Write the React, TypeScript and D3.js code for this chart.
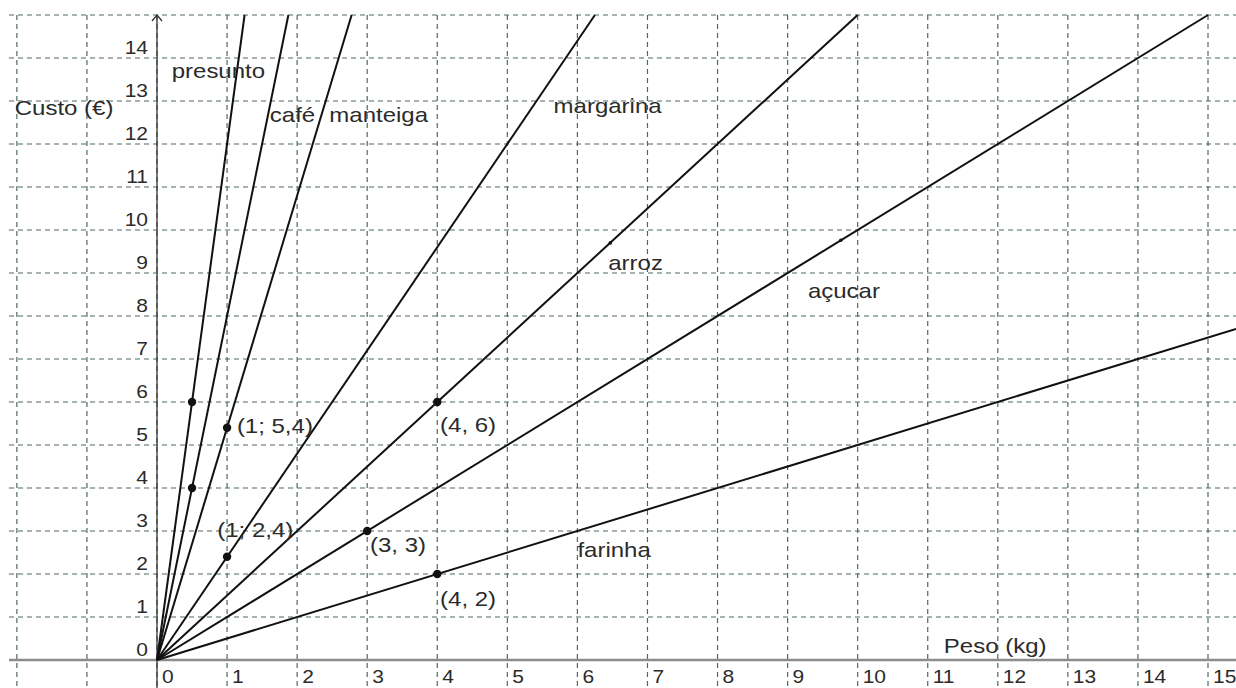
import { useEffect, useRef } from 'react';
import * as d3 from 'd3';

// ── Data ──

const PRODUCTS = ['presunto', 'café', 'manteiga', 'margarina', 'arroz', 'açucar', 'farinha'];
const PRICE_PER_KG = [12, 8, 5.4, 2.4, 1.5, 1, 0.5];
const PRODUCT_LABEL_X = [0.21, 1.61, 2.46, 5.66, 6.44, 9.29, 6.0];
const PRODUCT_LABEL_Y = [13.53, 12.51, 12.51, 12.72, 9.07, 8.42, 2.4];

const POINT_X = [0.5, 0.5, 1, 1, 4, 3, 4];
const POINT_Y = [6, 4, 5.4, 2.4, 6, 3, 2];
const GUIDE_X = [6.47, 9.76];
const GUIDE_Y = [9.7, 9.76];

const COORD_LABELS = ['(1; 5,4)', '(1; 2,4)', '(4, 6)', '(3, 3)', '(4, 2)'];
const COORD_LABEL_X = [1.14, 0.86, 4.04, 3.04, 4.04];
const COORD_LABEL_Y = [5.28, 2.86, 5.3, 2.51, 1.26];

const X_TICKS = [0, 1, 2, 3, 4, 5, 6, 7, 8, 9, 10, 11, 12, 13, 14, 15];
const Y_TICKS = [0, 1, 2, 3, 4, 5, 6, 7, 8, 9, 10, 11, 12, 13, 14];
const X_GRID = [-2, -1, 0, 1, 2, 3, 4, 5, 6, 7, 8, 9, 10, 11, 12, 13, 14, 15];
const Y_GRID = [1, 2, 3, 4, 5, 6, 7, 8, 9, 10, 11, 12, 13, 14, 15];

const W = 1236;
const H = 688;
const FONT = '"Liberation Sans", Arial, sans-serif';
const GRID = '#4e6963';
const INK = '#111';
const TEXT = '#2b2b2b';
const SX = 1.2; // picture is stretched horizontally

export default function App() {
  const svgRef = useRef<SVGSVGElement>(null);

  useEffect(() => {
    const svgEl = svgRef.current;
    if (!svgEl) return;
    const svg = d3.select(svgEl);
    svg.selectAll('*').remove();

    const x = d3.scaleLinear().domain([0, 15]).range([157, 1208]);
    const y = d3.scaleLinear().domain([0, 15]).range([660, 15]);
    const xMin = x.invert(9);
    const xMax = x.invert(W);
    const yMin = y.invert(H);
    const yMax = 15;

    svg.append('rect').attr('width', W).attr('height', H).attr('fill', '#fff');

    // grid
    const grid = svg.append('g').attr('stroke', GRID).attr('stroke-width', 1.2).attr('stroke-dasharray', '5,4');
    grid
      .selectAll('.hg')
      .data(Y_GRID)
      .enter()
      .append('line')
      .attr('x1', x(xMin))
      .attr('x2', x(xMax))
      .attr('y1', (d) => y(d))
      .attr('y2', (d) => y(d));
    grid
      .selectAll('.vg')
      .data(X_GRID)
      .enter()
      .append('line')
      .attr('x1', (d) => x(d))
      .attr('x2', (d) => x(d))
      .attr('y1', y(yMax))
      .attr('y2', y(yMin));

    // axes
    svg
      .append('line')
      .attr('x1', x(xMin))
      .attr('x2', x(xMax))
      .attr('y1', y(0))
      .attr('y2', y(0))
      .attr('stroke', '#8c8c8c')
      .attr('stroke-width', 2.5);
    svg
      .append('line')
      .attr('x1', x(0))
      .attr('x2', x(0))
      .attr('y1', y(yMin))
      .attr('y2', y(yMax))
      .attr('stroke', '#333')
      .attr('stroke-width', 1.3);
    svg
      .append('path')
      .attr('d', `M${x(0) - 5},${y(yMax) + 6} L${x(0)},${y(yMax)} L${x(0) + 5},${y(yMax) + 6}`)
      .attr('fill', 'none')
      .attr('stroke', '#333')
      .attr('stroke-width', 1.3);

    const addText = (
      g: d3.Selection<SVGSVGElement, unknown, null, undefined>,
      px: number,
      py: number,
      str: string,
      size: number,
      anchor = 'start',
    ) =>
      g
        .append('text')
        .attr('transform', `translate(${px},${py}) scale(${SX},1)`)
        .attr('font-family', FONT)
        .attr('font-size', size)
        .attr('fill', TEXT)
        .attr('text-anchor', anchor)
        .text(str);

    // tick labels
    X_TICKS.forEach((t) => addText(svg, x(t) + 5, y(0) + 23, String(t), 17.5));
    Y_TICKS.forEach((t) => addText(svg, x(0) - 9, y(t) - 4, String(t), 17.5, 'end'));

    // product lines through the origin, clipped to the visible frame
    const line = d3
      .line<[number, number]>()
      .x((d) => x(d[0]))
      .y((d) => y(d[1]));
    svg
      .selectAll('.prod')
      .data(PRICE_PER_KG)
      .enter()
      .append('path')
      .attr('fill', 'none')
      .attr('stroke', INK)
      .attr('stroke-width', 2)
      .attr('d', (m) => {
        const xe = Math.min(xMax, yMax / m);
        return line([
          [0, 0],
          [xe, m * xe],
        ]);
      });

    // points
    svg
      .selectAll('.pt')
      .data(POINT_X)
      .enter()
      .append('circle')
      .attr('cx', (d) => x(d))
      .attr('cy', (_d, i) => y(POINT_Y[i]))
      .attr('r', 4.2)
      .attr('fill', INK);
    svg
      .selectAll('.gp')
      .data(GUIDE_X)
      .enter()
      .append('circle')
      .attr('cx', (d) => x(d))
      .attr('cy', (_d, i) => y(GUIDE_Y[i]))
      .attr('r', 1.8)
      .attr('fill', INK);

    // labels
    PRODUCTS.forEach((p, i) => addText(svg, x(PRODUCT_LABEL_X[i]), y(PRODUCT_LABEL_Y[i]), p, 20));
    COORD_LABELS.forEach((c, i) => addText(svg, x(COORD_LABEL_X[i]), y(COORD_LABEL_Y[i]), c, 20));
    addText(svg, x(-2.03), y(12.67), 'Custo (€)', 20);
    addText(svg, x(11.23), y(0.16), 'Peso (kg)', 20);

    return () => {
      svg.selectAll('*').remove();
    };
  }, []);

  return (
    <svg
      ref={svgRef}
      width={W}
      height={H}
      style={{ position: 'absolute', left: 0, top: 0, display: 'block' }}
    />
  );
}
